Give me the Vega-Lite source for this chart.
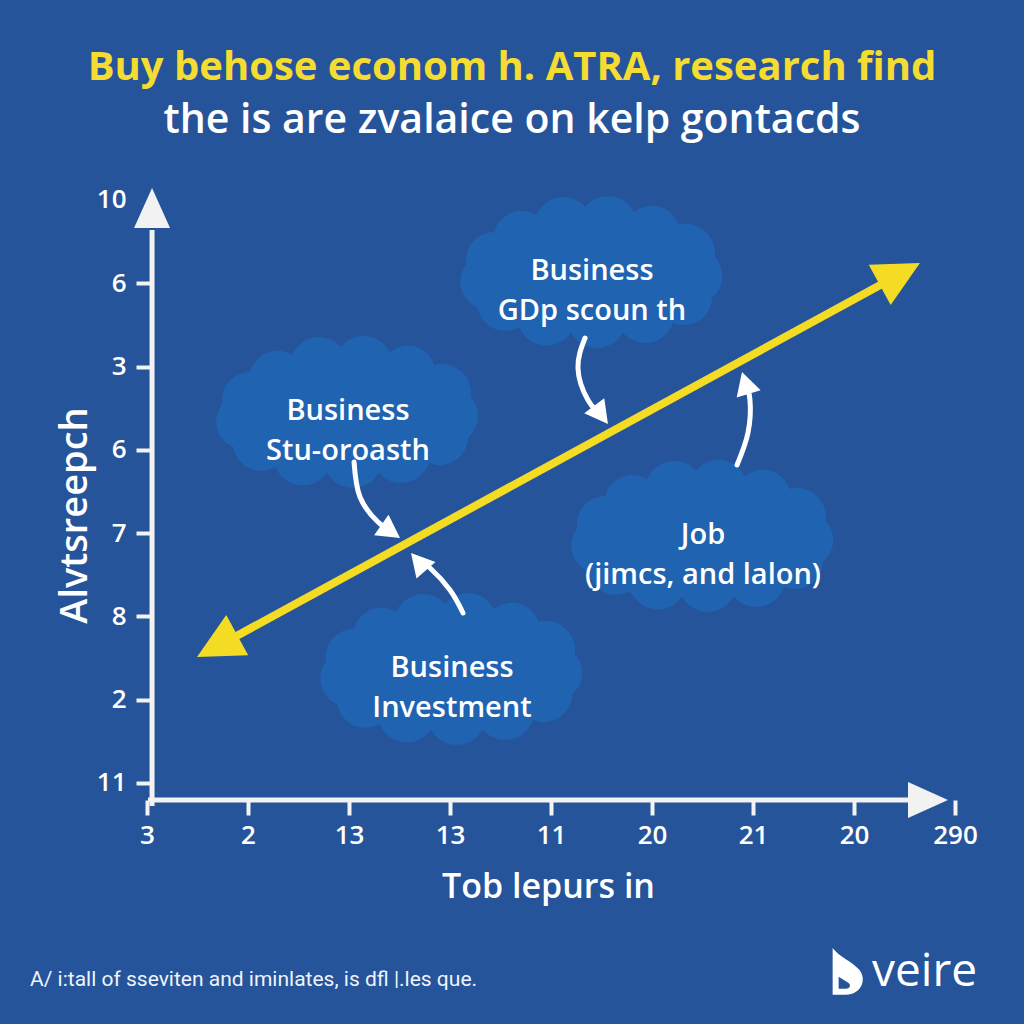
{
  "$schema": "https://vega.github.io/schema/vega-lite/v6.json",
  "width": 1024,
  "height": 1024,
  "autosize": {"type": "none"},
  "padding": 0,
  "background": "#25549a",
  "config": {
    "view": {"stroke": null},
    "axis": {"grid": false, "domain": false}
  },
  "title": {
    "text": "Buy behose econom h. ATRA, research find",
    "subtitle": "the is are zvalaice on kelp gontacds",
    "color": "#f5dc33",
    "subtitleColor": "#ffffff",
    "font": "Open Sans",
    "subtitleFont": "Open Sans",
    "fontSize": 40,
    "subtitleFontSize": 41,
    "fontWeight": "bold",
    "subtitleFontWeight": 600,
    "anchor": "middle",
    "frame": "group",
    "offset": -141,
    "subtitlePadding": 13
  },
  "datasets": {
    "clouds": [
      {"x": 4.406, "y": 6.146, "label": "Business\nGDp scoun th"},
      {"x": 1.99, "y": 4.466, "label": "Business\nStu-oroasth"},
      {"x": 5.505, "y": 2.977, "label": "Job\n(jimcs, and lalon)"},
      {"x": 3.02, "y": 1.381, "label": "Business\nInvestment"}
    ],
    "axisLines": [
      {"axis": "y", "x": 0.05, "y": -0.276},
      {"axis": "y", "x": 0.05, "y": 6.64},
      {"axis": "x", "x": 0.01, "y": -0.204},
      {"axis": "x", "x": 7.604, "y": -0.204}
    ],
    "axisTips": [
      {"x": 0.05, "y": 7.143, "dir": 270},
      {"x": 7.931, "y": -0.204, "dir": 0}
    ],
    "trend": [
      {"x": 0.723, "y": 1.657},
      {"x": 7.406, "y": 6.074}
    ],
    "trendTips": [
      {"x": 7.653, "y": 6.242, "dir": -28.6},
      {"x": 0.495, "y": 1.513, "dir": 151.4}
    ],
    "curves": [
      {"arrow": "a1", "step": 1, "x": 4.337, "y": 5.342},
      {"arrow": "a1", "step": 2, "x": 4.267, "y": 4.982},
      {"arrow": "a1", "step": 3, "x": 4.366, "y": 4.598},
      {"arrow": "a1", "step": 4, "x": 4.525, "y": 4.37},
      {"arrow": "a2", "step": 1, "x": 2.05, "y": 3.854},
      {"arrow": "a2", "step": 2, "x": 2.109, "y": 3.433},
      {"arrow": "a2", "step": 3, "x": 2.287, "y": 3.133},
      {"arrow": "a2", "step": 4, "x": 2.446, "y": 2.989},
      {"arrow": "a3", "step": 1, "x": 3.129, "y": 2.041},
      {"arrow": "a3", "step": 2, "x": 3.0, "y": 2.317},
      {"arrow": "a3", "step": 3, "x": 2.802, "y": 2.581},
      {"arrow": "a3", "step": 4, "x": 2.663, "y": 2.701},
      {"arrow": "a4", "step": 1, "x": 5.842, "y": 3.818},
      {"arrow": "a4", "step": 2, "x": 5.95, "y": 4.202},
      {"arrow": "a4", "step": 3, "x": 5.97, "y": 4.598},
      {"arrow": "a4", "step": 4, "x": 5.921, "y": 4.838}
    ],
    "curveTips": [
      {"x": 4.564, "y": 4.31, "dir": 53},
      {"x": 2.505, "y": 2.941, "dir": 35},
      {"x": 2.614, "y": 2.761, "dir": 229},
      {"x": 5.891, "y": 4.934, "dir": 253}
    ],
    "footer": [
      {"x": -1.158, "y": -2.365, "text": "A/ i:tall of sseviten and iminlates, is dfl |.les que."}
    ],
    "brand": [
      {"x": 7.178, "y": -2.269, "text": "veire"}
    ],
    "brandIcon": [
      {"x": 6.931, "y": -2.269}
    ]
  },
  "encoding": {
    "x": {
      "field": "x",
      "type": "quantitative",
      "scale": {"domain": [-1.4554, 8.6832], "nice": false, "zero": false},
      "axis": {
        "values": [0, 1, 2, 3, 4, 5, 6, 7, 8],
        "labelExpr": "['3','2','13','13','11','20','21','20','290'][datum.value]",
        "offset": -224,
        "tickSize": 15,
        "tickWidth": 4,
        "tickColor": "#f2f2f2",
        "labelColor": "#ffffff",
        "labelFont": "Open Sans",
        "labelFontSize": 26,
        "labelFontWeight": 600,
        "labelPadding": 7,
        "labelAngle": 0,
        "labelOverlap": false,
        "labelFlush": false,
        "title": "Tob lepurs in",
        "titleColor": "#ffffff",
        "titleFont": "Open Sans",
        "titleFontSize": 34,
        "titleFontWeight": 600,
        "titleX": 548,
        "titleY": 97,
        "titleAlign": "center",
        "titleBaseline": "alphabetic"
      }
    },
    "y": {
      "field": "y",
      "type": "quantitative",
      "scale": {"domain": [-2.8932, 9.3998], "nice": false, "zero": false},
      "axis": {
        "values": [0, 1, 2, 3, 4, 5, 6, 7],
        "labelExpr": "['11','2','8','7','6','3','6','10'][datum.value]",
        "offset": -152,
        "tickSize": 16,
        "tickWidth": 4,
        "tickColor": "#f2f2f2",
        "tickOpacity": {"condition": {"test": "datum.value == 7", "value": 0}, "value": 1},
        "labelColor": "#ffffff",
        "labelFont": "Open Sans",
        "labelFontSize": 26,
        "labelFontWeight": 600,
        "labelPadding": 10,
        "labelOverlap": false,
        "labelFlush": false,
        "title": "Alvtsreepch",
        "titleColor": "#ffffff",
        "titleFont": "Open Sans",
        "titleFontSize": 38,
        "titleFontWeight": 600,
        "titleAngle": 270,
        "titleX": -66,
        "titleY": 515,
        "titleAlign": "center",
        "titleBaseline": "alphabetic"
      }
    }
  },
  "layer": [
    {
      "data": {"name": "clouds"},
      "mark": {
        "type": "point",
        "filled": true,
        "opacity": 1,
        "color": "#2063b0",
        "strokeWidth": 0,
        "size": 78000,
        "shape": "M -0.82 0.26 A 0.2 0.2 0 0 1 -0.9 -0.05 A 0.2 0.2 0 0 1 -0.7 -0.28 A 0.2 0.2 0 0 1 -0.4 -0.4 A 0.21 0.21 0 0 1 -0.05 -0.46 A 0.21 0.21 0 0 1 0.3 -0.42 A 0.2 0.2 0 0 1 0.62 -0.33 A 0.21 0.21 0 0 1 0.88 -0.1 A 0.2 0.2 0 0 1 0.86 0.19 A 0.2 0.2 0 0 1 0.58 0.37 A 0.21 0.21 0 0 1 0.22 0.44 A 0.21 0.21 0 0 1 -0.15 0.44 A 0.21 0.21 0 0 1 -0.52 0.4 A 0.2 0.2 0 0 1 -0.82 0.26 Z"
      }
    },
    {
      "data": {"name": "clouds"},
      "mark": {
        "type": "text",
        "color": "#ffffff",
        "font": "Open Sans",
        "fontSize": 29,
        "fontWeight": 600,
        "align": "center",
        "baseline": "middle",
        "lineBreak": "\n",
        "lineHeight": 40
      },
      "encoding": {"text": {"field": "label"}}
    },
    {
      "data": {"name": "curves"},
      "mark": {"type": "line", "color": "#ffffff", "strokeWidth": 5, "interpolate": "natural", "strokeCap": "round"},
      "encoding": {
        "detail": {"field": "arrow"},
        "order": {"field": "step", "type": "quantitative"}
      }
    },
    {
      "data": {"name": "curveTips"},
      "mark": {
        "type": "point",
        "filled": true,
        "opacity": 1,
        "color": "#ffffff",
        "strokeWidth": 0,
        "size": 520,
        "shape": "M 0 0 L -2 -1.1 L -2 1.1 Z"
      },
      "encoding": {"angle": {"field": "dir", "type": "quantitative", "scale": null}}
    },
    {
      "data": {"name": "trend"},
      "mark": {"type": "line", "color": "#f4dc25", "strokeWidth": 8, "strokeCap": "butt"}
    },
    {
      "data": {"name": "trendTips"},
      "mark": {
        "type": "point",
        "filled": true,
        "opacity": 1,
        "color": "#f4dc25",
        "strokeWidth": 0,
        "size": 2100,
        "shape": "M 0 0 L -2 -1 L -2 1 Z"
      },
      "encoding": {"angle": {"field": "dir", "type": "quantitative", "scale": null}}
    },
    {
      "data": {"name": "axisLines"},
      "mark": {"type": "line", "color": "#f2f2f2", "strokeWidth": 5, "strokeCap": "butt"},
      "encoding": {"detail": {"field": "axis"}}
    },
    {
      "data": {"name": "axisTips"},
      "mark": {
        "type": "point",
        "filled": true,
        "opacity": 1,
        "color": "#f2f2f2",
        "strokeWidth": 0,
        "size": 1600,
        "shape": "M 0 0 L -2 -0.9 L -2 0.9 Z"
      },
      "encoding": {"angle": {"field": "dir", "type": "quantitative", "scale": null}}
    },
    {
      "data": {"name": "footer"},
      "mark": {
        "type": "text",
        "color": "#eef3fb",
        "font": "Liberation Sans Narrow, Roboto",
        "fontSize": 21,
        "align": "left",
        "baseline": "middle"
      },
      "encoding": {"text": {"field": "text"}}
    },
    {
      "data": {"name": "brand"},
      "mark": {
        "type": "text",
        "color": "#ffffff",
        "font": "Open Sans",
        "fontSize": 46,
        "align": "left",
        "baseline": "middle"
      },
      "encoding": {"text": {"field": "text"}}
    },
    {
      "data": {"name": "brandIcon"},
      "mark": {
        "type": "point",
        "filled": true,
        "opacity": 1,
        "color": "#ffffff",
        "strokeWidth": 0,
        "size": 2300,
        "shape": "M -0.6 -1 C -0.3 -0.6 0.2 -0.45 0.5 -0.1 C 0.85 0.3 0.6 0.95 -0.05 0.95 L -0.6 0.95 Z M -0.35 0.2 L -0.35 0.7 L -0.05 0.7 C 0.1 0.7 0.2 0.55 0.05 0.45 Z"
      }
    }
  ]
}
